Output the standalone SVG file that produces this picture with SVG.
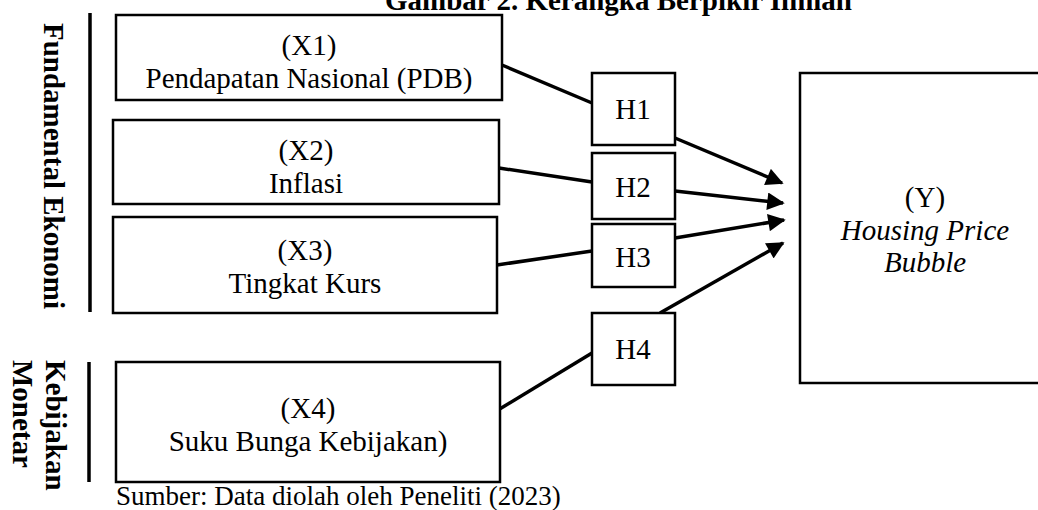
<svg xmlns="http://www.w3.org/2000/svg" width="1038" height="510" viewBox="0 0 1038 510">
<style>
.box{fill:#fff;stroke:#000;stroke-width:2.5}
.t{font-family:"Liberation Serif","Times New Roman",serif;font-size:29px;fill:#000;text-anchor:middle}
.b{font-family:"Liberation Serif","Times New Roman",serif;font-size:29px;font-weight:bold;fill:#000}
.i{font-style:italic}
.bar{stroke:#000;stroke-width:3.5}
.c{stroke:#000;stroke-width:3.5;fill:none}
.src{font-family:"Liberation Serif","Times New Roman",serif;font-size:27px;fill:#000}
</style>
<defs>
<marker id="ah" viewBox="0 0 10 10" refX="9" refY="5" markerWidth="5.5" markerHeight="5" orient="auto" markerUnits="strokeWidth">
<path d="M0,0 L10,5 L0,10 Z" fill="#000"/>
</marker>
</defs>
<rect width="1038" height="510" fill="#fff"/>
<text class="b" x="385" y="10">Gambar 2. Kerangka Berpikir Ilmiah</text>
<g id="group-fundamental">
<line class="bar" x1="90" y1="13" x2="90" y2="312"/>
<text class="b" text-anchor="middle" transform="translate(44,166) rotate(90)">Fundamental Ekonomi</text>
</g>
<g id="group-monetar">
<line class="bar" x1="89" y1="362" x2="89" y2="482"/>
<text class="b" transform="translate(46,360) rotate(90)">Kebijakan</text>
<text class="b" transform="translate(13,360) rotate(90)">Monetar</text>
</g>
<g id="connectors">
<line class="c" x1="502" y1="65" x2="592" y2="103"/>
<line class="c" x1="499" y1="168" x2="592" y2="182"/>
<line class="c" x1="497" y1="265" x2="592" y2="251"/>
<line class="c" x1="498" y1="410" x2="592" y2="353"/>
<line class="c" x1="675" y1="138" x2="782" y2="183" marker-end="url(#ah)"/>
<line class="c" x1="675" y1="191" x2="783" y2="203" marker-end="url(#ah)"/>
<line class="c" x1="675" y1="238" x2="784" y2="220" marker-end="url(#ah)"/>
<line class="c" x1="660" y1="313" x2="783" y2="243" marker-end="url(#ah)"/>
</g>
<g id="x1">
<rect class="box" x="116" y="15" width="386" height="85"/>
<text class="t" x="309" y="55">(X1)</text>
<text class="t" x="309" y="88">Pendapatan Nasional (PDB)</text>
</g>
<g id="x2">
<rect class="box" x="113" y="120" width="386" height="84"/>
<text class="t" x="306" y="160">(X2)</text>
<text class="t" x="306" y="193">Inflasi</text>
</g>
<g id="x3">
<rect class="box" x="113" y="217" width="384" height="96"/>
<text class="t" x="305" y="260">(X3)</text>
<text class="t" x="305" y="293">Tingkat Kurs</text>
</g>
<g id="x4">
<rect class="box" x="116" y="362" width="384" height="120"/>
<text class="t" x="308" y="418">(X4)</text>
<text class="t" x="308" y="451">Suku Bunga Kebijakan)</text>
</g>
<g id="h1">
<rect class="box" x="592" y="73" width="83" height="72"/>
<text class="t" x="633" y="119">H1</text>
</g>
<g id="h2">
<rect class="box" x="592" y="153" width="83" height="66"/>
<text class="t" x="633" y="197">H2</text>
</g>
<g id="h3">
<rect class="box" x="592" y="224" width="83" height="63"/>
<text class="t" x="633" y="267">H3</text>
</g>
<g id="h4">
<rect class="box" x="592" y="313" width="83" height="72"/>
<text class="t" x="633" y="359">H4</text>
</g>
<g id="y">
<rect class="box" x="800" y="73" width="260" height="310"/>
<text class="t" x="925" y="207">(Y)</text>
<text class="t i" x="925" y="240">Housing Price</text>
<text class="t i" x="925" y="272">Bubble</text>
</g>
<text class="src" x="116" y="505">Sumber: Data diolah oleh Peneliti (2023)</text>
</svg>
